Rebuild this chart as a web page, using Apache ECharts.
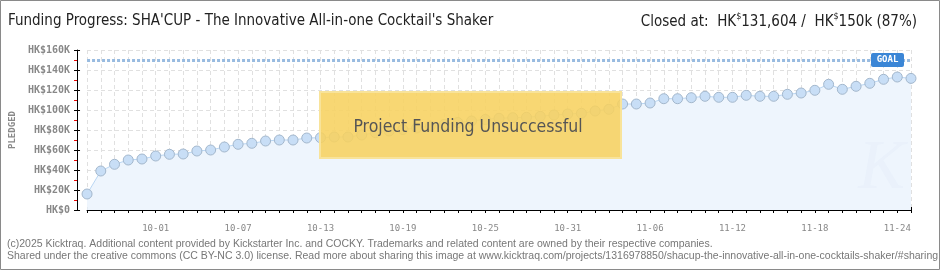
<!DOCTYPE html>
<html><head><meta charset="utf-8">
<script src="https://cdn.jsdelivr.net/npm/echarts@6/dist/echarts.min.js"></script>
<style>html,body{margin:0;padding:0;background:#fff}#c{width:940px;height:270px}</style>
</head><body><div id="c"></div>
<script>
const dates = ['09-26','09-27','09-28','09-29','09-30',
'10-01','10-02','10-03','10-04','10-05','10-06','10-07','10-08','10-09','10-10','10-11','10-12','10-13','10-14','10-15','10-16','10-17','10-18','10-19','10-20','10-21','10-22','10-23','10-24','10-25','10-26','10-27','10-28','10-29','10-30','10-31',
'11-01','11-02','11-03','11-04','11-05','11-06','11-07','11-08','11-09','11-10','11-11','11-12','11-13','11-14','11-15','11-16','11-17','11-18','11-19','11-20','11-21','11-22','11-23','11-24','11-25'];
const pledged = [16000,39000,45700,50000,51000,54000,55700,56000,59000,60000,63000,65700,66700,69000,70000,70000,72000,72300,73000,73000,
75000,77300,79000,80500,82000,84000,85500,87500,89000,90500,91700,92300,92700,93700,95000,96000,96700,99000,100700,106000,
106000,107000,111300,111300,112300,113700,112700,112700,114700,113700,113700,115700,117000,119700,125700,120700,123700,126700,130700,133000,131604];
const goal = 150000;
const yMax = 160000, yStep = 20000;
const title = "Funding Progress: SHA'CUP - The Innovative All-in-one Cocktail's Shaker";
const stamp = 'Project Funding Unsuccessful';
const footer1 = '(c)2025 Kicktraq. Additional content provided by Kickstarter Inc. and COCKY. Trademarks and related content are owned by their respective companies.';
const footer2 = 'Shared under the creative commons (CC BY-NC 3.0) license. Read more about sharing this image at www.kicktraq.com/projects/1316978850/shacup-the-innovative-all-in-one-cocktails-shaker/#sharing';

const chart = echarts.init(document.getElementById('c'), null, {renderer:'canvas'});
const pix = "'DejaVu Sans Mono', monospace";
const narrow = "'Liberation Sans Narrow','DejaVu Sans Condensed','Liberation Sans',sans-serif";
const yFmt = v => v === 0 ? 'HK$0' : 'HK$' + (v/1000) + 'K';
const xFmt = (v, i) => (i >= 5 && (i - 5) % 6 === 0) ? v : '';
chart.setOption({
  animation:false,
  grid:{left:85,right:29,top:50,bottom:60},
  xAxis:[{
    type:'category', data:dates, boundaryGap:false, offset:10,
    axisLine:{lineStyle:{color:'#000',width:1}},
    axisTick:{show:true,interval:0,length:3,lineStyle:{color:'#000'}},
    axisLabel:{interval:0, formatter:xFmt, color:'#888', fontFamily:pix, fontSize:9, margin:4, hideOverlap:false},
    splitLine:{show:true,interval:0,lineStyle:{color:'#e0e0e0',type:[4,3]}}
  },{
    type:'category', data:dates, boundaryGap:false, offset:10, position:'bottom',
    axisLine:{show:false}, axisLabel:{show:false,interval:0}, splitLine:{show:false},
    axisTick:{show:true,inside:true,interval:0,length:3,lineStyle:{color:'#000'}}
  }],
  yAxis:[{
    type:'value', min:0, max:yMax, interval:yStep, offset:10,
    name:'PLEDGED', nameLocation:'middle', nameGap:58, nameRotate:90,
    nameTextStyle:{color:'#888',fontFamily:pix,fontSize:9,fontWeight:'bold'},
    axisLine:{show:true,lineStyle:{color:'#000'}},
    axisTick:{show:true,length:3,lineStyle:{color:'#000'}},
    minorTick:{show:true,splitNumber:2,length:3,lineStyle:{color:'#e00'}},
    axisLabel:{formatter:yFmt,color:'#888',fontFamily:pix,fontSize:10,fontWeight:'bold',margin:7},
    splitLine:{show:true,lineStyle:{color:'#e0e0e0',type:[4,3]}}
  },{
    type:'value', min:0, max:yMax, interval:yStep, offset:10, position:'left',
    axisLine:{show:false}, axisLabel:{show:false}, splitLine:{show:false},
    axisTick:{show:true,inside:true,length:3,lineStyle:{color:'#000'}}
  }],
  series:[{
    type:'line', data:pledged, xAxisIndex:0, yAxisIndex:0,
    symbol:'circle', symbolSize:10, showSymbol:true, showAllSymbol:true,
    lineStyle:{color:'#b9d6f3',width:1},
    itemStyle:{color:'#c8def6',borderColor:'#a3b7cc',borderWidth:1},
    areaStyle:{color:'#eef5fd',opacity:1},
    markLine:{silent:true,symbol:'none',label:{show:false},
      lineStyle:{color:'#98bbe0',width:3,type:[3,2]},
      data:[{yAxis:goal}]},
    z:3
  }]
});

const gp = chart.convertToPixel({xAxisIndex:0,yAxisIndex:0},[dates[dates.length-1],goal]);
const lx = gp[0]-7, ly = gp[1];

chart.setOption({graphic:[
  {type:'rect',shape:{x:0.5,y:0.5,width:939,height:269},style:{fill:'none',stroke:'#8a8a8a',lineWidth:1},silent:true,z:0},
  {type:'text',x:8,y:21,style:{text:title,font:'15px '+narrow,fill:'#222',textVerticalAlign:'middle'},z:10},
  {type:'text',x:917,y:21,style:{
    text:'{a|Closed at:  HK}{s|$}{a|131,604 /  HK}{s|$}{a|150k (87%)}',
    align:'right',verticalAlign:'middle',
    rich:{a:{font:'15px '+narrow,fill:'#222',verticalAlign:'bottom',lineHeight:18},
          s:{font:'9px '+narrow,fill:'#222',verticalAlign:'top',lineHeight:18}}
  },z:10},
  {type:'text',x:905,y:170,style:{text:'K',font:'italic 70px "Liberation Serif",serif',fill:'rgba(170,190,215,0.06)',align:'right',verticalAlign:'middle'},silent:true,z:4},
  {type:'rect',shape:{x:320,y:92,width:301,height:66},style:{fill:'rgba(247,210,96,0.88)',stroke:'#f8e39a',lineWidth:2},z:20},
  {type:'text',x:468,y:127,style:{text:stamp,font:'17.5px '+narrow,fill:'#555',align:'center',verticalAlign:'middle',
     textShadowColor:'#fff',textShadowOffsetX:1,textShadowOffsetY:1,textShadowBlur:0},z:21},
  {type:'rect',shape:{x:lx-33,y:ly-7,width:33,height:14,r:2},style:{fill:'#3b86d6'},z:22},
  {type:'text',x:lx-16.5,y:ly,style:{text:'GOAL',font:'bold 9px '+pix,fill:'#fff',align:'center',verticalAlign:'middle'},z:23},
  {type:'text',x:7,y:244,style:{text:footer1,font:'10.5px "Liberation Sans",sans-serif',fill:'#777',verticalAlign:'middle'},z:10},
  {type:'text',x:7,y:256,style:{text:footer2,font:'10.5px "Liberation Sans",sans-serif',fill:'#777',verticalAlign:'middle'},z:10}
]});
</script></body></html>
